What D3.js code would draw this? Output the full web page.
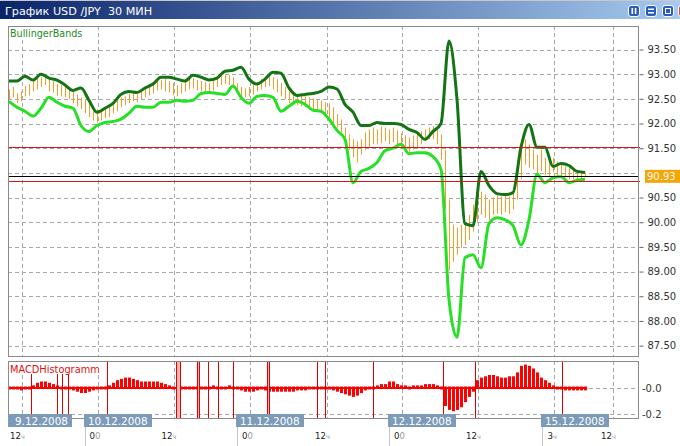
<!DOCTYPE html>
<html><head><meta charset="utf-8">
<script src="https://cdn.jsdelivr.net/npm/d3@7"></script>
<style>
body{margin:0;background:#fff;}
svg{display:block;font-family:"DejaVu Sans",Verdana,sans-serif;}
</style>
</head><body>
<svg id="c" width="680" height="446"></svg>
<script>
// ---------- DATA ----------
const chartTitle = "График USD /JPY  30 МИН";
const priceLabel = "BullingerBands";
const macdLabel = "MACDHistogramm";

// 30-min bars (high / low), in order
const barHigh = [
92.69,92.74,92.61,92.65,92.76,92.80,92.86,92.90,92.94,92.96,
92.90,92.86,92.80,92.78,92.74,92.69,92.65,92.59,92.53,92.49,
92.41,92.33,92.29,92.27,92.33,92.37,92.41,92.47,92.53,92.55,
92.61,92.63,92.59,92.65,92.71,92.76,92.80,92.86,92.88,92.90,
92.86,92.82,92.78,92.82,92.86,92.90,92.92,92.88,92.86,92.84,
92.82,92.86,92.92,92.96,93.00,92.98,92.94,92.82,92.74,92.71,
92.74,92.78,92.84,92.90,92.94,92.96,92.94,92.90,92.82,92.74,
92.65,92.61,92.59,92.57,92.55,92.53,92.51,92.49,92.47,92.43,
92.41,92.33,92.19,92.08,91.92,91.78,91.68,91.64,91.68,91.82,
91.88,91.92,91.88,91.94,91.92,91.88,91.92,91.86,91.80,91.76,
91.72,91.76,91.80,91.84,91.88,91.92,91.94,91.88,91.78,91.47,
90.46,89.95,89.89,89.95,90.01,90.15,90.36,90.56,90.62,90.56,
90.46,90.50,90.54,90.52,90.56,90.52,90.66,91.17,91.68,91.68,
91.58,91.47,91.37,91.47,91.31,91.27,91.31,91.23,91.17,91.13,
91.11,91.07,91.03,91.03,91.01];
const barLow = [
92.49,92.53,92.41,92.45,92.55,92.57,92.65,92.69,92.74,92.78,
92.65,92.63,92.57,92.55,92.53,92.49,92.41,92.35,92.29,92.21,
92.13,92.06,92.02,92.06,92.11,92.13,92.21,92.25,92.33,92.37,
92.41,92.45,92.43,92.49,92.53,92.57,92.61,92.67,92.69,92.65,
92.63,92.57,92.55,92.61,92.65,92.69,92.71,92.67,92.65,92.65,
92.63,92.67,92.74,92.78,92.80,92.78,92.71,92.59,92.53,92.53,
92.55,92.59,92.65,92.69,92.74,92.76,92.69,92.63,92.55,92.49,
92.41,92.39,92.37,92.35,92.33,92.29,92.29,92.25,92.21,92.17,
92.13,92.00,91.92,91.82,91.58,91.47,91.31,91.21,91.37,91.47,
91.52,91.58,91.58,91.60,91.64,91.58,91.62,91.56,91.52,91.47,
91.43,91.47,91.52,91.58,91.64,91.68,91.68,91.58,91.27,90.26,
89.03,89.20,89.34,89.48,89.54,89.64,89.81,90.01,90.15,90.09,
90.05,90.15,90.17,90.15,90.21,90.17,90.26,90.46,90.87,91.17,
91.11,91.07,90.97,91.03,90.95,90.93,91.01,90.93,90.91,90.91,
90.87,90.87,90.87,90.89,90.91];

// Bollinger bands, one value every 2 bars
const bandStep = 2;
const upperBand = [
92.86,92.86,92.96,92.88,93.00,92.92,92.88,92.78,92.67,92.72,
92.47,92.23,92.31,92.41,92.59,92.65,92.63,92.72,92.80,92.94,
92.94,92.90,92.86,92.98,92.94,92.88,92.92,93.06,93.08,93.14,
92.90,92.80,92.90,93.04,93.02,92.72,92.57,92.59,92.61,92.65,
92.74,92.70,92.39,92.23,91.96,91.96,92.02,92.00,92.00,91.98,
91.88,91.82,91.68,91.84,92.00,93.67,92.49,89.97,89.93,91.03,
90.74,90.58,90.56,90.60,91.52,91.98,91.52,91.52,91.13,91.19,
91.15,91.03,91.01];
const lowerBand = [
92.45,92.33,92.25,92.15,92.31,92.53,92.43,92.35,92.31,91.96,
91.84,91.96,92.02,92.04,92.09,92.21,92.35,92.33,92.33,92.43,
92.43,92.47,92.45,92.47,92.61,92.63,92.61,92.59,92.76,92.53,
92.41,92.55,92.57,92.53,92.25,92.35,92.45,92.39,92.27,92.25,
92.09,91.86,91.68,90.80,91.03,91.09,91.21,91.45,91.50,91.58,
91.39,91.41,91.41,91.33,91.07,88.43,87.67,89.28,89.34,89.08,
89.97,90.09,90.05,89.93,89.54,90.05,90.97,90.80,90.90,90.92,
90.80,90.85,90.87];

// MACD histogram, one value per bar
const macdHist = [
-0.02,-0.01,-0.02,-0.03,-0.02,-0.01,0.02,0.04,0.05,0.05,
0.04,0.03,0.02,0.01,0.00,-0.01,-0.03,-0.04,-0.05,-0.05,
-0.04,-0.03,-0.02,-0.01,0.00,0.02,0.04,0.06,0.07,0.08,
0.08,0.07,0.06,0.05,0.05,0.05,0.05,0.05,0.04,0.03,
0.02,0.01,0.00,-0.01,0.00,0.00,-0.01,0.00,0.01,0.00,
0.01,0.02,0.01,0.00,0.01,0.02,0.01,-0.02,-0.03,-0.04,
-0.04,-0.04,-0.03,-0.02,-0.03,-0.04,-0.04,-0.04,-0.04,-0.04,
-0.04,-0.04,-0.03,-0.03,-0.03,-0.02,-0.01,0.00,-0.01,-0.01,
-0.02,-0.03,-0.04,-0.05,-0.06,-0.07,-0.08,-0.07,-0.05,-0.03,
-0.01,0.01,0.02,0.03,0.03,0.05,0.05,0.03,0.02,0.02,
0.01,0.02,0.02,0.02,0.03,0.03,0.03,0.02,0.00,-0.15,
-0.18,-0.19,-0.18,-0.16,-0.12,-0.08,-0.04,0.06,0.08,0.09,
0.10,0.10,0.09,0.08,0.08,0.09,0.09,0.12,0.17,0.18,
0.17,0.15,0.12,0.08,0.06,0.04,0.02,0.00,-0.02,-0.03,
-0.03,-0.03,-0.03,-0.03,-0.03];
// MACD zero-cross signal times (bar index)
const macdSignals = [5.4,11.9,13.3,14.8,24.6,41.7,42.75,46.9,47.6,49.8,52.3,56.1,64.4,65.1,76.9,79,91.1,108.6,116.5,138.2];

const levelLines = [91.53, 90.83];
const lastPrice = 90.93;
const priceGrid = [93.5,93,92.5,92,91.5,91,90.5,90,89.5,89,88.5,88,87.5];
const priceTickLabels = [93.5,93,92.5,92,91.5,90.5,90,89.5,89,88.5,88,87.5];
const macdTicks = [0, -0.2];
const macdTickLabels = ["-0.0", "-0.2"];
// time axis (bar index positions)
const timeTickPos = [3.25,22.125,41.125,60.25,79.5,98.25,117.25,136.25,151];
const timeTickLabels = ["12ч","00","12ч","00","12ч","00","12ч","3ч","12ч"];
const dayPos = [0.75,19,57,95,133.25];
const dayLabels = ["9.12.2008","10.12.2008","11.12.2008","12.12.2008","15.12.2008"];

// ---------- DRAW ----------
const svg = d3.select("#c");
const W = 680;
const M = {l:8, r:638, t:26, b:356};
const P = {t:361, b:418};

const x = d3.scaleLinear().domain([0, barHigh.length-1]).range([9, 585]);
const y = d3.scaleLinear().domain([87.5, 93.5]).range([345.6, 49.5]);
const ym = d3.scaleLinear().domain([-0.2, 0]).range([414, 388]);
const px = v => Math.round(v) + 0.5;

const defs = svg.append("defs");
const grad = defs.append("linearGradient").attr("id","tb");
grad.append("stop").attr("offset","0").attr("stop-color","#0a246a");
grad.append("stop").attr("offset","1").attr("stop-color","#a6caf0");
defs.append("clipPath").attr("id","cm").append("rect")
  .attr("x",M.l+1).attr("y",M.t+1).attr("width",M.r-M.l-1).attr("height",M.b-M.t-1);
defs.append("clipPath").attr("id","cp").append("rect")
  .attr("x",M.l+1).attr("y",P.t+1).attr("width",M.r-M.l-1).attr("height",P.b-P.t-1);

// title bar
svg.append("rect").attr("x",0).attr("y",0).attr("width",W).attr("height",1).attr("fill","#c8c8c8");
svg.append("rect").attr("x",0).attr("y",1).attr("width",W).attr("height",18).attr("fill","url(#tb)");
svg.append("text").attr("x",5).attr("y",14.5).attr("fill","#fff").attr("font-size",11.2)
  .style("white-space","pre").text(chartTitle);
const btnX = [628,645,662,678];
btnX.forEach((bx,k)=>{
  const g = svg.append("g").attr("transform",`translate(${bx},5)`);
  g.append("rect").attr("x",0.5).attr("y",0.5).attr("width",11).attr("height",11).attr("rx",2.5)
    .attr("fill", k===3 ? "#d8502e" : "#2d5bbd").attr("stroke","#fff");
  if(k===0){
    g.append("rect").attr("x",3.5).attr("y",3).attr("width",1.6).attr("height",6).attr("fill","#fff");
    g.append("rect").attr("x",6.8).attr("y",3).attr("width",1.6).attr("height",6).attr("fill","#fff");
  } else if(k===1){
    g.append("rect").attr("x",3).attr("y",3.5).attr("width",6).attr("height",1.5).attr("fill","#fff");
    g.append("rect").attr("x",3).attr("y",7).attr("width",6).attr("height",1.5).attr("fill","#fff");
  } else if(k===2){
    g.append("rect").attr("x",3.5).attr("y",3.5).attr("width",5).attr("height",5).attr("fill","none").attr("stroke","#fff");
  }
});

// ---- main panel ----
const gridColor = "#a8a8a8";
const main = svg.append("g");
const mc = main.append("g").attr("clip-path","url(#cm)");
mc.selectAll("line.hg").data(priceGrid).join("line").attr("class","hg")
  .attr("x1",M.l).attr("x2",M.r).attr("y1",d=>px(y(d))).attr("y2",d=>px(y(d)))
  .attr("stroke",gridColor).attr("stroke-dasharray","4,3");
mc.selectAll("line.vg").data(timeTickPos).join("line").attr("class","vg")
  .attr("x1",d=>px(x(d))).attr("x2",d=>px(x(d))).attr("y1",M.t).attr("y2",M.b)
  .attr("stroke",gridColor).attr("stroke-dasharray","4,3");

// OHLC high-low bars
mc.selectAll("line.bar").data(barHigh).join("line").attr("class","bar")
  .attr("x1",(d,i)=>px(x(i))).attr("x2",(d,i)=>px(x(i)))
  .attr("y1",d=>y(d)).attr("y2",(d,i)=>y(barLow[i]))
  .attr("stroke","#f0a028").attr("stroke-width",1);

// bands
const bandLine = d3.line().x((d,j)=>x(j*bandStep)).y(d=>y(d)).curve(d3.curveMonotoneX);
mc.append("path").datum(lowerBand).attr("d",bandLine).attr("fill","none")
  .attr("stroke","#26e026").attr("stroke-width",3).attr("stroke-linejoin","round");
mc.append("path").datum(upperBand).attr("d",bandLine).attr("fill","none")
  .attr("stroke","#127412").attr("stroke-width",3).attr("stroke-linejoin","round");

// level lines
main.selectAll("line.lv").data(levelLines).join("line").attr("class","lv")
  .attr("x1",M.l).attr("x2",M.r+2).attr("y1",d=>px(y(d))).attr("y2",d=>px(y(d)))
  .attr("stroke","#dd1111");
main.append("line").attr("x1",M.l).attr("x2",M.r).attr("y1",px(y(lastPrice))).attr("y2",px(y(lastPrice)))
  .attr("stroke","#000");

// label
main.append("rect").attr("x",M.l+1).attr("y",M.t+1).attr("width",80).attr("height",13).attr("fill","#fff");
main.append("text").attr("x",10).attr("y",37).attr("font-size",9.6).attr("fill","#1f8a1f").text(priceLabel);

// border
main.append("rect").attr("x",M.l+0.5).attr("y",M.t+0.5).attr("width",M.r-M.l).attr("height",M.b-M.t)
  .attr("fill","none").attr("stroke","#8a8a8a");

// right axis
const ax = svg.append("g").attr("transform",`translate(${M.r+0.5},0)`)
  .call(d3.axisRight(y).tickValues(priceTickLabels).tickFormat(d3.format(".2f")).tickSize(4).tickPadding(5));
ax.select(".domain").remove();
ax.selectAll("line").attr("stroke","#666").attr("transform","translate(1,0)");
ax.selectAll("text").attr("font-family","DejaVu Sans, sans-serif").attr("font-size",10).attr("fill","#333");
// last price badge
svg.append("rect").attr("x",645).attr("y",y(lastPrice)-6.5).attr("width",35).attr("height",13).attr("fill","#f2a60a");
svg.append("text").attr("x",647).attr("y",y(lastPrice)+4).attr("font-size",10).attr("fill","#fff8e8")
  .text(d3.format(".2f")(lastPrice));

// ---- MACD panel ----
const mp = svg.append("g");
const mpc = mp.append("g").attr("clip-path","url(#cp)");
mpc.selectAll("line.hg").data(macdTicks).join("line").attr("class","hg")
  .attr("x1",M.l).attr("x2",M.r).attr("y1",d=>px(ym(d))).attr("y2",d=>px(ym(d)))
  .attr("stroke",gridColor).attr("stroke-dasharray","4,3");
mpc.selectAll("line.vg").data(timeTickPos).join("line").attr("class","vg")
  .attr("x1",d=>px(x(d))).attr("x2",d=>px(x(d))).attr("y1",P.t).attr("y2",P.b)
  .attr("stroke",gridColor).attr("stroke-dasharray","4,3");
// histogram
mpc.append("line").attr("x1",x(0)-1).attr("x2",x(macdHist.length-1)+2)
  .attr("y1",ym(0)).attr("y2",ym(0)).attr("stroke","#ff0000").attr("stroke-width",2);
mpc.selectAll("rect.h").data(macdHist).join("rect").attr("class","h")
  .attr("x",(d,i)=>Math.round(x(i))-1).attr("width",3)
  .attr("y",d=>Math.min(ym(d),ym(0)-1.5))
  .attr("height",d=>Math.max(Math.abs(ym(d)-ym(0)),3))
  .attr("fill","#ff0000");
// signals
const sx = macdSignals.map(s=>Math.round(x(s)));
sx.forEach((v,k)=>{
  if(k>0 && v - sx[k-1] < 5){
    mpc.append("rect").attr("x",sx[k-1]+1).attr("y",P.t).attr("width",v-sx[k-1]-1).attr("height",P.b-P.t).attr("fill","#f4b4b4");
  }
});
mpc.selectAll("line.sg").data(sx).join("line").attr("class","sg")
  .attr("x1",d=>d+0.5).attr("x2",d=>d+0.5).attr("y1",P.t).attr("y2",P.b)
  .attr("stroke","#e00000");
mp.append("rect").attr("x",M.l+1).attr("y",P.t+1).attr("width",96).attr("height",12).attr("fill","#fff");
mp.append("text").attr("x",10).attr("y",372.5).attr("font-size",9.8).attr("fill","#e01010").text(macdLabel);
mp.append("rect").attr("x",M.l+0.5).attr("y",P.t+0.5).attr("width",M.r-M.l).attr("height",P.b-P.t)
  .attr("fill","none").attr("stroke","#8a8a8a");
const axm = svg.append("g").attr("transform",`translate(${M.r},0)`)
  .call(d3.axisRight(ym).tickValues(macdTicks).tickFormat((d,i)=>macdTickLabels[i]).tickSize(0).tickPadding(4));
axm.select(".domain").remove();
axm.selectAll("text").attr("font-family","DejaVu Sans, sans-serif").attr("font-size",10).attr("fill","#333");

// ---- time axis ----
svg.selectAll("line.ds").data(dayPos.slice(1)).join("line").attr("class","ds")
  .attr("x1",d=>px(x(d))).attr("x2",d=>px(x(d))).attr("y1",427).attr("y2",446)
  .attr("stroke","#c4c4c4");
const tl = svg.selectAll("text.tl").data(timeTickPos).join("text").attr("class","tl")
  .attr("x",d=>x(d)+3).attr("y",439).attr("text-anchor","end").attr("font-size",8.6).attr("fill","#222");
tl.each(function(d,i){
  const s = timeTickLabels[i];
  const t = d3.select(this);
  t.append("tspan").text(s.slice(0,-1));
  t.append("tspan").attr("fill","#9a9a9a").attr("font-size",s.endsWith("ч")?7:8.6).text(s.slice(-1));
});
dayPos.forEach((d,i)=>{
  const xd = x(d);
  const t = svg.append("text").attr("x",xd+3).attr("y",424.5).attr("font-size",10.4).attr("fill","#fff").text(dayLabels[i]);
  const w = t.node().getComputedTextLength();
  const x0 = i===0 ? M.l : Math.round(xd)-1;
  const x1 = Math.round(xd + 3 + w + 4);
  svg.insert("rect", () => t.node()).attr("x",x0).attr("y",414).attr("width",x1-x0).attr("height",13).attr("fill","#7d9bb8");
});
</script>
</body></html>
